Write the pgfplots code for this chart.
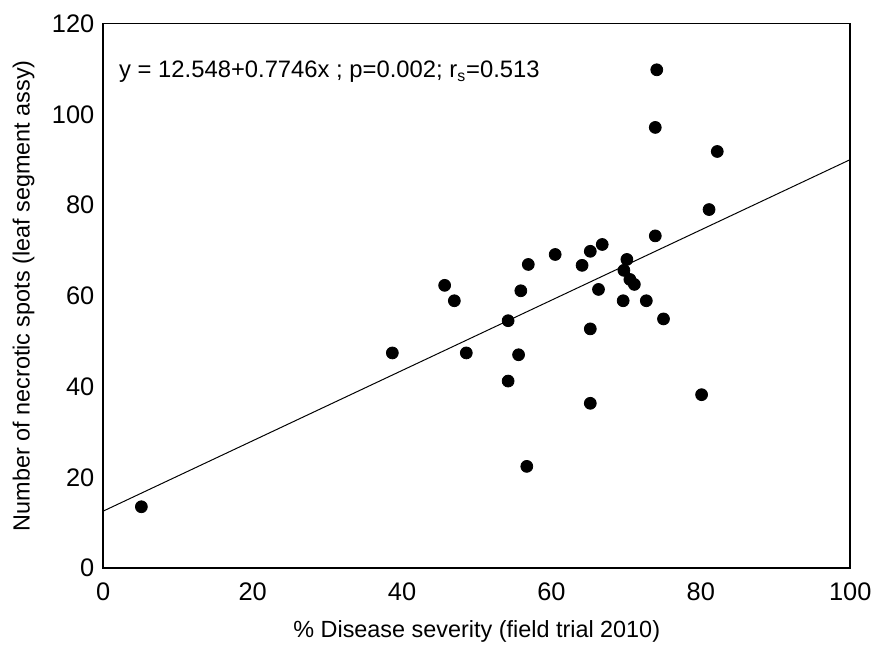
\documentclass[border={3pt 3pt 0pt 4pt}]{standalone}
\usepackage{fontspec}
\setmainfont{Liberation Sans}
\usepackage{pgfplots}
\pgfplotsset{compat=1.18}

\pgfplotstableread{
x y
5.1 13.5
38.7 47.4
45.7 62.3
47.0 58.9
48.6 47.4
54.2 54.5
54.2 41.2
55.6 47.0
55.9 61.1
56.9 66.9
56.7 22.4
60.5 69.1
64.1 66.7
65.2 69.8
66.8 71.3
65.2 52.7
65.2 36.3
66.3 61.4
70.1 68.0
69.7 65.6
70.5 63.6
71.1 62.5
69.6 58.9
72.7 58.9
75.0 54.9
74.1 109.8
73.9 97.1
82.2 91.8
81.1 79.0
73.9 73.2
80.1 38.2
}\spots

\begin{document}
\begin{tikzpicture}
\begin{axis}[
    scale only axis,
    width=376.7pt, height=274.6pt,
    xmin=0, xmax=100, ymin=0, ymax=120,
    xtick={0,20,...,100}, ytick={0,20,...,120},
    tick style={draw=none},
    axis line style={line width=0.8pt},
    label style={font=\fontsize{11.8}{14}\selectfont},
    tick label style={font=\fontsize{12.8}{15}\selectfont},
    /pgf/number format/assume math mode=true,
    xticklabel style={yshift=-4pt},
    yticklabel style={xshift=-1pt},
    xlabel={\% Disease severity (field trial 2010)},
    ylabel={Number of necrotic spots (leaf segment assy)},
    xlabel style={yshift=-3pt},
    ylabel style={yshift=2pt},
]
\addplot[only marks, mark=*, mark size=3pt, black] table[x=x, y=y] {\spots};
\addplot[black, line width=0.5pt] coordinates {(0,12.548) (100,90.008)};
\node[anchor=west, font=\fontsize{12}{14}\selectfont] at (axis cs:1.2,109.3)
    {y = 12.548+0.7746x ; p=0.002; r\textsubscript{s}=0.513};
\end{axis}
\end{tikzpicture}
\end{document}
